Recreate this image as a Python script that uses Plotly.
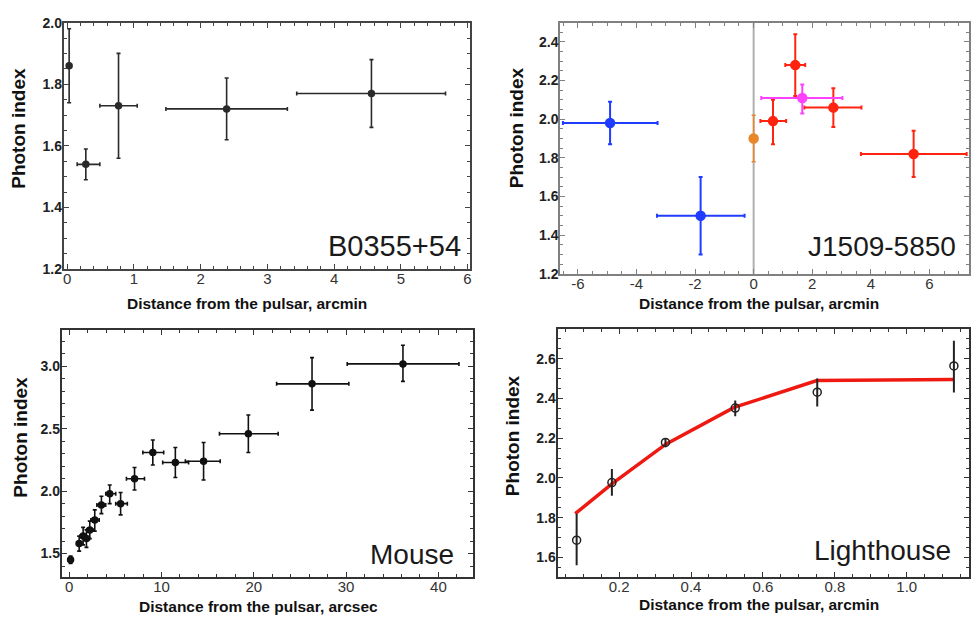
import plotly.graph_objects as go

W, H = 972, 623

# ---------------- Panel 1: B0355+54 ----------------
b_x = [0.03, 0.28, 0.77, 2.39, 4.56]
b_y = [1.86, 1.54, 1.73, 1.72, 1.77]
b_xlo = [0.03, 0.15, 0.49, 1.48, 3.44]
b_xhi = [0.03, 0.49, 1.05, 3.30, 5.67]
b_ylo = [1.74, 1.49, 1.56, 1.62, 1.66]
b_yhi = [1.98, 1.59, 1.90, 1.82, 1.88]

# ---------------- Panel 2: J1509-5850 ----------------
jb_x = [-4.90, -1.81]
jb_y = [1.98, 1.50]
jb_xlo = [-6.51, -3.30]
jb_xhi = [-3.28, -0.31]
jb_ylo = [1.87, 1.30]
jb_yhi = [2.09, 1.70]

jo_x = [0.0]
jo_y = [1.90]
jo_ylo = [1.78]
jo_yhi = [2.02]

jr_x = [0.66, 1.42, 2.72, 5.46]
jr_y = [1.99, 2.28, 2.06, 1.82]
jr_xlo = [0.23, 1.08, 1.73, 3.66]
jr_xhi = [1.11, 1.76, 3.68, 7.27]
jr_ylo = [1.87, 2.12, 1.96, 1.70]
jr_yhi = [2.10, 2.44, 2.16, 1.94]

jm_x = [1.66]
jm_y = [2.11]
jm_xlo = [0.26]
jm_xhi = [3.03]
jm_ylo = [2.03]
jm_yhi = [2.18]

j_tickvals = [-6, -4, -2, 0, 2, 4, 6]
j_ticktext = ["-6", "-4", "-2", "0", "2", "4", "6"]

# ---------------- Panel 3: Mouse ----------------
m_x = [0.15, 1.08, 1.51, 1.87, 2.23, 2.77, 3.49, 4.39, 5.57, 7.08, 9.06, 11.5, 14.56, 19.41, 26.31, 36.16]
m_y = [1.45, 1.58, 1.64, 1.62, 1.69, 1.77, 1.89, 1.98, 1.90, 2.10, 2.31, 2.23, 2.24, 2.46, 2.86, 3.02]
m_xlo = [0.05, 0.80, 1.20, 1.55, 1.90, 2.35, 3.00, 3.96, 5.04, 6.20, 7.98, 10.13, 12.58, 16.28, 22.47, 30.12]
m_xhi = [0.25, 1.35, 1.80, 2.20, 2.70, 3.25, 3.96, 5.04, 6.30, 8.16, 10.24, 12.94, 16.36, 22.64, 30.30, 42.23]
m_ylo = [1.42, 1.52, 1.57, 1.55, 1.62, 1.68, 1.82, 1.90, 1.81, 2.01, 2.21, 2.11, 2.09, 2.31, 2.65, 2.88]
m_yhi = [1.48, 1.64, 1.71, 1.69, 1.76, 1.85, 1.96, 2.05, 1.99, 2.19, 2.41, 2.35, 2.39, 2.61, 3.07, 3.17]

# ---------------- Panel 4: Lighthouse ----------------
l_x = [0.082, 0.180, 0.329, 0.523, 0.751, 1.131]
l_y = [1.687, 1.977, 2.179, 2.352, 2.432, 2.564]
l_ylo = [1.56, 1.91, 2.155, 2.31, 2.36, 2.43]
l_yhi = [1.82, 2.045, 2.20, 2.39, 2.50, 2.69]
fit_x = [0.078, 0.18, 0.33, 0.52, 0.75, 1.13]
fit_y = [1.82, 1.97, 2.17, 2.355, 2.49, 2.495]


def minus(v, lo):
    return [a - b for a, b in zip(v, lo)]


def plus(v, hi):
    return [b - a for a, b in zip(v, hi)]


def errpts(x, y, xlo, xhi, ylo, yhi, color, size, thick, cap, xa, ya, symbol="circle"):
    ex = None
    if xlo is not None:
        ex = dict(type="data", symmetric=False, array=plus(x, xhi), arrayminus=minus(x, xlo),
                  color=color, thickness=thick, width=cap)
    ey = dict(type="data", symmetric=False, array=plus(y, yhi), arrayminus=minus(y, ylo),
              color=color, thickness=thick, width=cap)
    return go.Scatter(x=x, y=y, mode="markers", xaxis=xa, yaxis=ya,
                      marker=dict(color=color, size=size, symbol=symbol,
                                  line=dict(color=color, width=1.5)),
                      error_x=ex, error_y=ey, showlegend=False, hoverinfo="skip")


fig = go.Figure()
dark = "#2a2a2a"
fig.add_trace(errpts(b_x[:1], b_y[:1], None, None, b_ylo[:1], b_yhi[:1], dark, 6, 1.6, 2, "x", "y"))
fig.add_trace(errpts(b_x[1:], b_y[1:], b_xlo[1:], b_xhi[1:], b_ylo[1:], b_yhi[1:], dark, 6, 1.6, 2, "x", "y"))

fig.add_shape(type="line", xref="x2", yref="y2 domain", x0=0, x1=0, y0=0, y1=1,
              line=dict(color="#b0b0b0", width=2), layer="below")
fig.add_trace(errpts(jb_x, jb_y, jb_xlo, jb_xhi, jb_ylo, jb_yhi, "#1f3cff", 9, 2, 2, "x2", "y2"))
fig.add_trace(errpts(jo_x, jo_y, None, None, jo_ylo, jo_yhi, "#e8862a", 9, 1.5, 2, "x2", "y2"))
fig.add_trace(errpts(jr_x, jr_y, jr_xlo, jr_xhi, jr_ylo, jr_yhi, "#ff2410", 9, 2, 2, "x2", "y2"))
fig.add_trace(errpts(jm_x, jm_y, jm_xlo, jm_xhi, jm_ylo, jm_yhi, "#ff40ff", 9, 2, 2, "x2", "y2"))

fig.add_trace(errpts(m_x, m_y, m_xlo, m_xhi, m_ylo, m_yhi, "#111111", 6, 1.6, 2, "x3", "y3"))

fig.add_trace(go.Scatter(x=fit_x, y=fit_y, mode="lines", xaxis="x4", yaxis="y4",
                         line=dict(color="#ee1a12", width=3.5), showlegend=False, hoverinfo="skip"))
fig.add_trace(errpts(l_x, l_y, None, None, l_ylo, l_yhi, "#222222", 8, 2, 0, "x4", "y4",
                     symbol="circle-open"))

FONT = "Liberation Sans, Arial, Helvetica, sans-serif"


def px(x):
    return x / W


def py(y):
    return 1 - y / H


def axis(rng, dom, anchor, dtick, minor, linecolor, bold=False):
    return dict(range=rng, domain=dom, anchor=anchor, dtick=dtick, showgrid=False, zeroline=False,
                showline=True, linecolor=linecolor, linewidth=2, mirror="ticks",
                ticks="inside", ticklen=5, tickwidth=1, tickcolor=linecolor,
                ticklabelstandoff=-3 if bold else -5,
                minor=dict(ticks="inside", ticklen=3, dtick=minor, tickcolor=linecolor),
                tickfont=dict(family=FONT, size=14 if bold else 15, color="#222" if bold else "#333",
                              weight="bold" if bold else "normal"))


layout_axes = dict(
    xaxis=axis([-0.05, 6.03], [px(63), px(470)], "y", 1, 0.2, "#444"),
    yaxis=axis([1.2, 2.0], [py(268), py(15)], "x", 0.2, 0.05, "#444", bold=True),
    xaxis2=axis([-6.6, 7.35], [px(561), px(971)], "y2", 2, 0.5, "#808080"),
    yaxis2=axis([1.2, 2.5], [py(272.7), py(15)], "x2", 0.2, 0.05, "#808080", bold=True),
    xaxis3=axis([-0.8, 43.7], [px(61), px(473)], "y3", 10, 2, "#333"),
    yaxis3=axis([1.31, 3.29], [py(584.3), py(330.7)], "x3", 0.5, 0.1, "#333", bold=True),
    xaxis4=axis([0.029, 1.173], [px(558.3), px(971)], "y4", 0.2, 0.05, "#333"),
    yaxis4=axis([1.5, 2.752], [py(584.3), py(329)], "x4", 0.2, 0.05, "#333", bold=True),
)
layout_axes["xaxis"]["tickformat"] = "d"
layout_axes["xaxis2"]["tickmode"] = "array"
layout_axes["xaxis2"]["tickvals"] = j_tickvals
layout_axes["xaxis2"]["ticktext"] = j_ticktext
layout_axes["xaxis4"]["tickformat"] = ".1f"
layout_axes["yaxis"]["tickformat"] = ".1f"
layout_axes["yaxis2"]["tickformat"] = ".1f"
layout_axes["yaxis3"]["tickformat"] = ".1f"
layout_axes["yaxis4"]["tickformat"] = ".1f"

ann = []


def text(x, y, s, size, xanchor="center", bold=False, angle=0, color="#111"):
    ann.append(dict(x=px(x), y=py(y), xref="paper", yref="paper", text=s, showarrow=False,
                    xanchor=xanchor, yanchor="middle", textangle=angle,
                    font=dict(family=FONT, size=size, color=color,
                              weight="bold" if bold else "normal")))


# panel labels
text(463, 244, "B0355+54", 29, xanchor="right", color="#1a1a1a")
text(960, 245, "J1509-5850", 28, xanchor="right", color="#1a1a1a")
text(456, 561, "Mouse", 28, xanchor="right", color="#1a1a1a")
text(955, 557, "Lighthouse", 28, xanchor="right", color="#1a1a1a")

# axis titles
text(18, 123, "Photon index", 19, bold=True, angle=-90)
text(517, 123, "Photon index", 19, bold=True, angle=-90)
text(20, 440, "Photon index", 19, bold=True, angle=-90)
text(513, 439, "Photon index", 19, bold=True, angle=-90)
text(247, 303, "Distance from the pulsar, arcmin", 15.5, bold=True)
text(760, 303, "Distance from the pulsar, arcmin", 15.5, bold=True)
text(258, 614, "Distance from the pulsar, arcsec", 15.5, bold=True)
text(760, 612, "Distance from the pulsar, arcmin", 15.5, bold=True)

fig.update_layout(width=W, height=H, margin=dict(l=0, r=0, t=0, b=0),
                  paper_bgcolor="white", plot_bgcolor="white",
                  annotations=ann, **layout_axes)

fig.write_html("out.html", config={"displayModeBar": False},
               post_script="document.body.style.margin='0px';document.body.style.overflow='hidden';")
